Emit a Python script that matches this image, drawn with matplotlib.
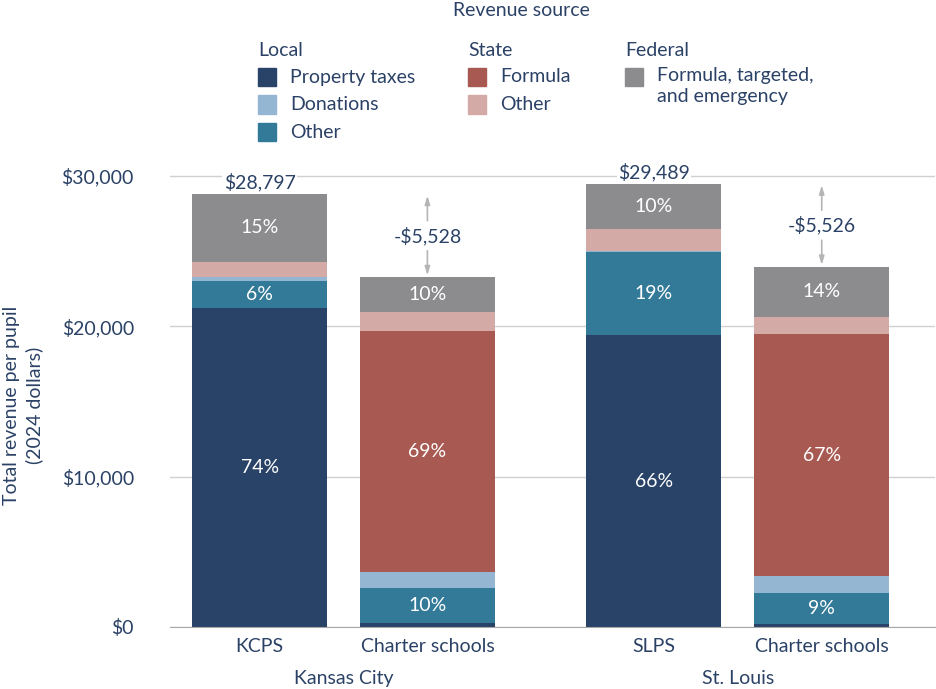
import matplotlib.pyplot as plt
from matplotlib.patches import Rectangle

plt.rcParams['font.family'] = ['Lato', 'DejaVu Sans']

# revenue per pupil, 2024 dollars
bars = ['KCPS', 'Charter schools', 'SLPS', 'Charter schools']
cities = ['Kansas City', 'St. Louis']
totals = [28797, 23269, 29489, 23963]
gaps = ['-$5,528', '-$5,526']

local_property = [21250, 290, 19400, 200]
local_other = [1780, 2320, 5550, 2080]
local_donations = [230, 1070, 60, 1110]
state_formula = [0, 16000, 0, 16080]
state_other = [1030, 1250, 1450, 1180]
federal = [4507, 2339, 3029, 3313]

pct_property = ['74%', '', '66%', '']
pct_local_other = ['6%', '10%', '19%', '9%']
pct_formula = ['', '69%', '', '67%']
pct_federal = ['15%', '10%', '10%', '14%']

navy = '#2b4266'
colors = {
    'prop': '#294268', 'don': '#95b6d3', 'loc': '#337a99',
    'form': '#a85a52', 'sother': '#d4aaa7', 'fed': '#8c8c8e',
}
fs = 14

fig = plt.figure(figsize=(9.36, 6.89), dpi=100)
ax = fig.add_axes([170 / 936, 62 / 689, 765 / 936, 466 / 689])

x = [0, 1, 2.35, 3.35]
w = 0.805
stack = [
    (local_property, colors['prop'], pct_property),
    (local_other, colors['loc'], pct_local_other),
    (local_donations, colors['don'], None),
    (state_formula, colors['form'], pct_formula),
    (state_other, colors['sother'], None),
    (federal, colors['fed'], pct_federal),
]
bottom = [0, 0, 0, 0]
for vals, c, labels in stack:
    ax.bar(x, vals, w, bottom=bottom, color=c, zorder=3)
    if labels:
        for xi, b, v, lab in zip(x, bottom, vals, labels):
            if lab:
                ax.text(xi, b + v / 2, lab, ha='center', va='center',
                        color='white', fontsize=fs, zorder=4)
    bottom = [b + v for b, v in zip(bottom, vals)]

# district totals and charter gaps
for i, (d, c) in enumerate([(0, 1), (2, 3)]):
    ax.text(x[d], totals[d] + 150, f'${totals[d]:,}', ha='center', va='bottom',
            color=navy, fontsize=fs, zorder=4,
            bbox=dict(facecolor='white', edgecolor='none', pad=1))
    mid = (totals[d] + totals[c]) / 2
    ax.text(x[c], mid, gaps[i], ha='center', va='center', color=navy,
            fontsize=fs, zorder=4)
    ap = dict(arrowstyle='-|>,head_length=0.5,head_width=0.15',
              color='#b5b5b5', lw=1.2, shrinkA=0, shrinkB=0)
    ax.annotate('', xy=(x[c], totals[d] - 100), xytext=(x[c], mid + 1000),
                arrowprops=ap)
    ax.annotate('', xy=(x[c], totals[c] + 120), xytext=(x[c], mid - 1000),
                arrowprops=ap)

ax.set_xlim(-0.534, 4.025)
ax.set_ylim(0, 31000)
ax.set_yticks([0, 10000, 20000, 30000])
ax.set_yticklabels(['$0', '$10,000', '$20,000', '$30,000'])
ax.set_xticks(x)
ax.set_xticklabels(bars)
ax.tick_params(axis='both', length=0, labelsize=fs, labelcolor=navy)
ax.tick_params(axis='y', pad=26)
ax.tick_params(axis='x', pad=8)
ax.grid(axis='y', color='#d0d0d0', lw=1, zorder=0)
for s in ['top', 'right', 'left']:
    ax.spines[s].set_visible(False)
ax.spines['bottom'].set_color('#a8a8a8')
ax.spines['bottom'].set_zorder(5)

for name, xc in zip(cities, [(x[0] + x[1]) / 2, (x[2] + x[3]) / 2]):
    ax.text(xc, -0.11, name, transform=ax.get_xaxis_transform(),
            ha='center', va='center', color=navy, fontsize=fs)

fig.text(23 / 936, 1 - 405 / 689, 'Total revenue per pupil\n(2024 dollars)',
         rotation=90, ha='center', va='center', color=navy, fontsize=fs,
         linespacing=1.35)

# legend
fig.text(521 / 936, 1 - 11 / 689, 'Revenue source', ha='center', va='center',
         color=navy, fontsize=fs)
groups = [
    (258, 'Local', [('Property taxes', colors['prop']),
                    ('Donations', colors['don']),
                    ('Other', colors['loc'])]),
    (468, 'State', [('Formula', colors['form']),
                    ('Other', colors['sother'])]),
    (625, 'Federal', [('Formula, targeted,\nand emergency', colors['fed'])]),
]
for gx, title, items in groups:
    fig.text(gx / 936, 1 - 50 / 689, title, ha='left', va='center',
             color=navy, fontsize=fs)
    for j, (lab, c) in enumerate(items):
        yc = 77 + j * 27.5
        fig.patches.append(Rectangle((gx / 936, 1 - (yc + 9) / 689),
                                     18 / 936, 18 / 689, color=c,
                                     transform=fig.transFigure, figure=fig))
        va = 'top' if '\n' in lab else 'center'
        ty = yc - 10 if '\n' in lab else yc
        fig.text((gx + 32) / 936, 1 - ty / 689, lab, ha='left', va=va,
                 color=navy, fontsize=fs, linespacing=1.3)

fig.savefig('out.png')
plt.close()
